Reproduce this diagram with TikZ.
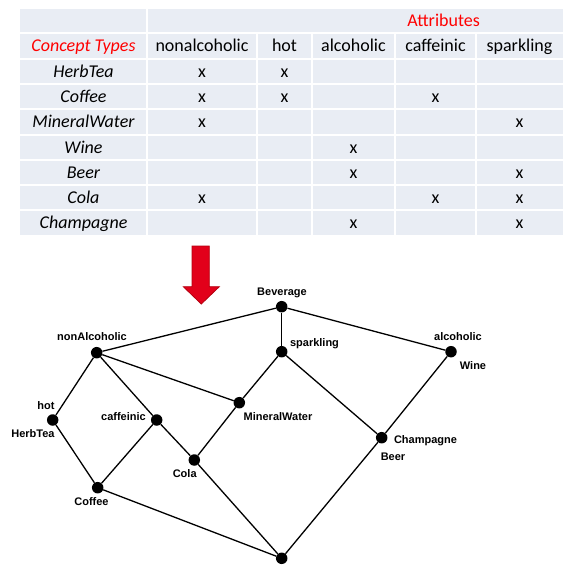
\documentclass[tikz,border=0pt]{standalone}
\usepackage{fontspec}
\setmainfont{Carlito}
\newfontfamily\graphfont{Liberation Sans}
\usetikzlibrary{positioning}
\definecolor{cCellF}{HTML}{E9EDF4}
\definecolor{cRedT}{HTML}{FF0000}
\definecolor{cArrowF}{HTML}{E2001A}
\definecolor{cArrowD}{HTML}{B3000F}
\tikzset{
  cell/.style  = {anchor=base, inner sep=0pt, font=\fontsize{18}{20}\selectfont},
  head/.style  = {cell, font=\fontsize{18}{20}\selectfont\itshape},
  grid/.style  = {white, line width=2pt},
  dot/.style   = {circle, fill=black, inner sep=0pt, minimum size=11.5pt},
  lbl/.style   = {anchor=base, inner sep=0pt,
                  font=\graphfont\bfseries\fontsize{11}{12}\selectfont},
  edge/.style  = {line width=1.3pt},
}
\begin{document}
\begin{tikzpicture}[x=1pt, y=-1pt]
  \useasboundingbox (0,0) rectangle (579,578);
  % context table
  \fill[cCellF] (20,9) rectangle (563,235);
  \foreach \y in {33,59,84,109,135,160,185,210}
    \draw[grid] (20,\y) -- (563,\y);
  \draw[grid] (147,9) -- (147,235);
  \foreach \x in {257,312,395,476}
    \draw[grid] (\x,33) -- (\x,235);
  \node[cell, text=cRedT] (attr) at (443.6,26.5) {Attributes};
  \node[head, text=cRedT] (types) at (83.5,51.7) {Concept Types};
  \foreach \i/\x/\txt in {1/202/nonalcoholic, 2/284.5/hot, 3/353.5/alcoholic,
                          4/435.5/caffeinic, 5/519.5/sparkling}
    \node[cell] (h\i) at (\x,51.7) {\txt};
  \foreach \name/\y/\marks in {HerbTea/77.2/{1,2}, Coffee/102.2/{1,2,4},
                               MineralWater/127.7/{1,5}, Wine/153.2/{3},
                               Beer/178.2/{3,5}, Cola/203.2/{1,4,5},
                               Champagne/228.2/{3,5}}{
    \node[head] (r\name) at (83.5,\y) {\name};
    \foreach \m in \marks
      \node[cell] (x\name\m) at (h\m.base |- r\name.base) {x};
  }
  % arrow down to the lattice
  \draw[cArrowD, fill=cArrowF, line width=0.8pt, line join=miter]
    (192,246) -- (209.3,246) -- (209.3,286.7) -- (219.3,286.7) -- (201.3,304)
    -- (183.3,286.7) -- (192,286.7) -- cycle;
  % concept lattice
  \node[dot] (bev)     at (281.7,306.7) {};
  \node[dot] (spark)   at (281.7,351.7) {};
  \node[dot] (nonalc)  at (96.7,352.7) {};
  \node[dot] (alc)     at (451,351.7) {};
  \node[dot] (mineral) at (239.3,402.7) {};
  \node[dot] (hot)     at (52.7,420) {};
  \node[dot] (caff)    at (156.7,420) {};
  \node[dot] (cola)    at (194.3,460) {};
  \node[dot] (coffee)  at (97.7,487.7) {};
  \node[dot] (champ)   at (381.7,437.7) {};
  \node[dot] (bottom)  at (281.7,558.3) {};
  \draw[edge] (bev) -- (nonalc);
  \draw[edge] (bev) -- (spark);
  \draw[edge] (bev) -- (alc);
  \draw[edge] (nonalc) -- (hot);
  \draw[edge] (nonalc) -- (caff);
  \draw[edge] (nonalc) -- (mineral);
  \draw[edge] (spark) -- (mineral);
  \draw[edge] (spark) -- (champ);
  \draw[edge] (alc) -- (champ);
  \draw[edge] (hot) -- (coffee);
  \draw[edge] (caff) -- (coffee);
  \draw[edge] (caff) -- (cola);
  \draw[edge] (mineral) -- (cola);
  \draw[edge] (coffee) -- (bottom);
  \draw[edge] (cola) -- (bottom);
  \draw[edge] (champ) -- (bottom);
  % labels
  \node[lbl] (lBev)     at (282,295)   {Beverage};
  \node[lbl] (lSpark)   at (314.5,346) {sparkling};
  \node[lbl] (lNonalc)  at (92,340.5)  {nonAlcoholic};
  \node[lbl] (lAlc)     at (458,340)   {alcoholic};
  \node[lbl] (lWine)    at (473,369)   {Wine};
  \node[lbl] (lMineral) at (278,420)   {MineralWater};
  \node[lbl] (lHot)     at (46,409)    {hot};
  \node[lbl] (lHerb)    at (33,437)    {HerbTea};
  \node[lbl] (lCaff)    at (123.5,420) {caffeinic};
  \node[lbl] (lCola)    at (184.7,477) {Cola};
  \node[lbl] (lCoffee)  at (91.5,505)  {Coffee};
  \node[lbl] (lChamp)   at (425.5,443) {Champagne};
  \node[lbl] (lBeer)    at (393,460)   {Beer};
\end{tikzpicture}
\end{document}
